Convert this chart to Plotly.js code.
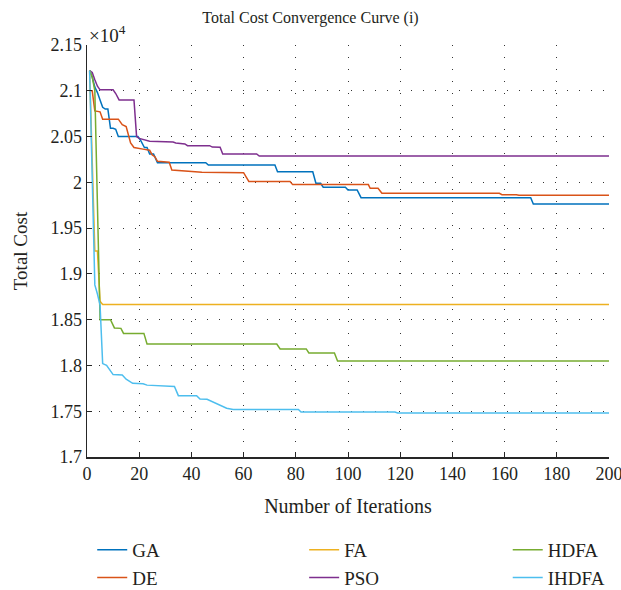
<!DOCTYPE html>
<html>
<head>
<meta charset="utf-8">
<script src="https://cdn.plot.ly/plotly-3.0.1.min.js"></script>
<style>html,body{margin:0;padding:0;background:#fff;}#chart{width:621px;height:590px;}</style>
</head>
<body>
<div id="chart"></div>
<script>
// Values in units of 10^4
const gaX = [1,2,3,4,5,6,7,8,9,10,11,12,19.5,20.5,22,23,24,25.5,27,45.5,46.5,72,73,86.5,87.7,89.5,90.5,99,100,103.5,105,170,171,200];
const gaY = [2.122,2.115,2.104,2.098,2.09,2.082,2.08,2.08,2.059,2.059,2.058,2.05,2.05,2.046,2.038,2.038,2.031,2.031,2.0215,2.0215,2.019,2.019,2.0116,2.0116,1.999,1.999,1.9946,1.9946,1.9916,1.9916,1.9832,1.9832,1.9763,1.9763];

const deX = [1,2,3,5,6,12,13.5,15,16.7,18,22,24,25,26,27,31.5,32.5,44,60,62,77.8,78.8,107.8,108.5,111.5,113,158,159,164.5,165.5,200];
const deY = [2.1,2.1,2.078,2.077,2.069,2.069,2.063,2.061,2.043,2.038,2.036,2.035,2.03,2.028,2.023,2.022,2.0135,2.011,2.0105,2.001,2.001,1.9975,1.9975,1.9935,1.9935,1.988,1.988,1.9865,1.9865,1.9858,1.9858];

const faX = [1,2,3,4,5,6,200];
const faY = [2.122,2.02,1.925,1.925,1.87,1.8667,1.8667];

const psoX = [1,2,3,4,5,10,11,12.3,18,19,20,23,24,33,34,37.5,38.5,47,48,51,52,65,66,200];
const psoY = [2.122,2.12,2.112,2.105,2.101,2.101,2.097,2.09,2.09,2.05,2.048,2.046,2.045,2.044,2.043,2.042,2.04,2.04,2.0385,2.0383,2.031,2.031,2.0288,2.0288];

const hdfaX = [1,2,3,5,9,10.5,13,14,21.8,23,72.7,74,84,85,94.8,96,200];
const hdfaY = [2.122,2.115,2.1,1.85,1.85,1.841,1.8405,1.835,1.835,1.8234,1.8234,1.818,1.818,1.8136,1.8136,1.8049,1.8049];

const ihdfaX = [1,2,3,4,5,6,7.5,10,13.5,15,17.5,21.5,23,33.5,35,42,43.3,46,49.7,53.5,56,81,82,118,119,200];
const ihdfaY = [2.122,2.005,1.888,1.878,1.866,1.802,1.8,1.79,1.7895,1.785,1.7805,1.78,1.7785,1.777,1.767,1.767,1.7634,1.763,1.758,1.7532,1.752,1.752,1.7492,1.7492,1.7481,1.7481];

const xTicks = [0,20,40,60,80,100,120,140,160,180,200];
const yTicks = [1.7,1.75,1.8,1.85,1.9,1.95,2,2.05,2.1,2.15];
const yTickText = ['1.7','1.75','1.8','1.85','1.9','1.95','2','2.05','2.1','2.15'];

const names = ['GA','DE','FA','PSO','HDFA','IHDFA'];
const colors = {GA:'#0072BD', DE:'#D95319', FA:'#EDB120', PSO:'#7E2F8E', HDFA:'#77AC30', IHDFA:'#4DBEEE'};
const series = {GA:[gaX,gaY], DE:[deX,deY], FA:[faX,faY], PSO:[psoX,psoY], HDFA:[hdfaX,hdfaY], IHDFA:[ihdfaX,ihdfaY]};
const legendOf = {GA:'legend', DE:'legend', FA:'legend2', PSO:'legend2', HDFA:'legend3', IHDFA:'legend3'};

const FONT = '"Liberation Serif", "Times New Roman", serif';
const TXT = '#231f20';

const traces = names.map(n => ({
  x: series[n][0], y: series[n][1], name: n, type: 'scatter', mode: 'lines',
  legend: legendOf[n],
  line: {color: colors[n], width: 1.5}
}));

const axisCommon = {
  showline: true, linecolor: '#262626', linewidth: 1.5, mirror: false,
  ticks: 'inside', ticklen: 5, tickcolor: '#262626', tickwidth: 1,
  showgrid: true, gridcolor: '#333', gridwidth: 1, griddash: '1px,11px',
  zeroline: false, tickfont: {family: FONT, size: 18, color: TXT},
  ticklabeloverflow: 'allow', automargin: false
};

const legendBase = {orientation: 'v', yref: 'container', y: 0.1, yanchor: 'top', xanchor: 'left',
  font: {family: FONT, size: 19, color: TXT}, bgcolor: 'rgba(0,0,0,0)', tracegroupgap: 0, borderwidth: 0};

const layout = {
  width: 621, height: 590,
  margin: {l: 87, r: 12, t: 45, b: 133},
  paper_bgcolor: '#fff', plot_bgcolor: '#fff',
  font: {family: FONT, color: TXT},
  title: {text: 'Total Cost Convergence Curve (i)', x: 0.5, xanchor: 'center', y: 0.97, yanchor: 'middle', font: {family: FONT, size: 16, color: TXT}},
  xaxis: Object.assign({}, axisCommon, {range: [0, 200], tickvals: xTicks,
    title: {text: 'Number of Iterations', font: {family: FONT, size: 20, color: TXT}, standoff: 16}}),
  yaxis: Object.assign({}, axisCommon, {range: [1.7, 2.15], tickvals: yTicks, ticktext: yTickText,
    title: {text: 'Total Cost', font: {family: FONT, size: 19, color: TXT}, standoff: 18}}),
  showlegend: true,
  legend: Object.assign({}, legendBase, {x: 0.01}),
  legend2: Object.assign({}, legendBase, {x: 0.416}),
  legend3: Object.assign({}, legendBase, {x: 0.806}),
  annotations: [{xref: 'paper', yref: 'paper', x: 0, y: 1, xanchor: 'left', yanchor: 'bottom',
    text: '×10<sup>4</sup>', showarrow: false, font: {family: FONT, size: 19, color: TXT}, yshift: -3}]
};

Plotly.newPlot('chart', traces, layout, {displayModeBar: false, staticPlot: true});
</script>
</body>
</html>
